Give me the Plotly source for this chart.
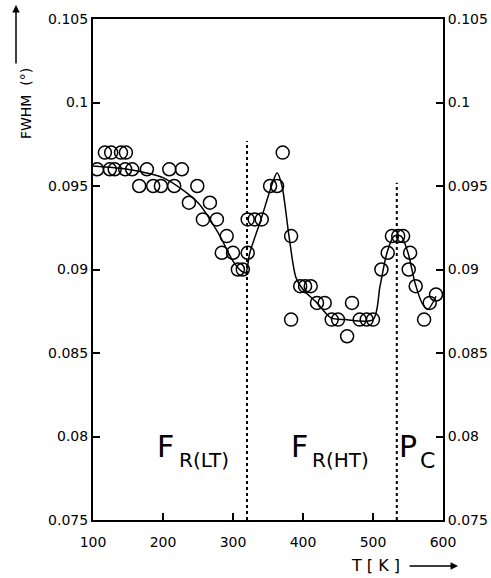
import plotly.graph_objects as go

# Measured data (T in K, FWHM in degrees)
temp_k = [106, 117, 124, 126, 131, 140, 146, 147, 156, 166, 177, 186, 197, 209, 216, 227,
          237, 249, 257, 267, 277, 284, 291, 300, 307, 314, 321, 321, 331, 341, 353, 363,
          371, 383, 383, 396, 403, 411, 420, 431, 441, 450, 463, 470, 481, 491, 500,
          512, 521, 527, 536, 543, 551, 553, 561, 573, 581, 590]
fwhm = [0.096, 0.097, 0.096, 0.097, 0.096, 0.097, 0.096, 0.097, 0.096, 0.095, 0.096, 0.095,
        0.095, 0.096, 0.095, 0.096, 0.094, 0.095, 0.093, 0.094, 0.093, 0.091, 0.092, 0.091,
        0.090, 0.090, 0.091, 0.093, 0.093, 0.093, 0.095, 0.095, 0.097, 0.092, 0.087, 0.089,
        0.089, 0.089, 0.088, 0.088, 0.087, 0.087, 0.086, 0.088, 0.087, 0.087, 0.087,
        0.090, 0.091, 0.092, 0.092, 0.092, 0.090, 0.091, 0.089, 0.087, 0.088, 0.0885]

# Guide-to-the-eye curve
curve_x = [100, 150, 200, 250, 280, 300, 312, 318, 324, 340, 355, 363, 370, 380, 390, 400,
           420, 440, 460, 500, 510, 520, 530, 540, 550, 560, 570, 578, 590]
curve_y = [0.0962, 0.0960, 0.0955, 0.0940, 0.0921, 0.0905, 0.0899, 0.0898, 0.0910, 0.0930,
           0.0950, 0.0958, 0.0950, 0.0920, 0.0895, 0.0888, 0.0880, 0.0871, 0.0870, 0.0870,
           0.0890, 0.0910, 0.0920, 0.0920, 0.0910, 0.0892, 0.0880, 0.0876, 0.0884]

# Phase boundaries (K) and their top values
boundary_x = [320, 534]
boundary_top = [0.0977, 0.0952]

y_ticks = [0.075, 0.08, 0.085, 0.09, 0.095, 0.1, 0.105]
y_tick_text = ["0.075", "0.08", "0.085", "0.09", "0.095", "0.1", "0.105"]
x_ticks = [100, 200, 300, 400, 500, 600]

FONT = "DejaVu Sans"

fig = go.Figure()

fig.add_trace(go.Scatter(x=curve_x, y=curve_y, mode="lines",
                         line=dict(color="black", width=1.5, shape="spline", smoothing=0.8),
                         showlegend=False, hoverinfo="skip"))
fig.add_trace(go.Scatter(x=temp_k, y=fwhm, mode="markers",
                         marker=dict(symbol="circle-open", size=13, color="black",
                                     line=dict(width=1.5, color="black")),
                         showlegend=False))
for bx, bt in zip(boundary_x, boundary_top):
    fig.add_trace(go.Scatter(x=[bx, bx], y=[0.075, bt], mode="lines",
                             line=dict(color="black", width=2, dash="dot"),
                             showlegend=False, hoverinfo="skip"))
# invisible trace for the right axis
fig.add_trace(go.Scatter(x=[100], y=[0.09], yaxis="y2", mode="markers",
                         marker=dict(opacity=0), showlegend=False, hoverinfo="skip"))

axis_common = dict(showgrid=False, zeroline=False, linecolor="black", linewidth=2,
                   ticks="inside", ticklen=7, tickwidth=2, tickcolor="black",
                   automargin=False,
                   tickfont=dict(family=FONT, size=14, color="black"))

fig.update_layout(
    width=491, height=578,
    margin=dict(l=93, r=48, t=19, b=58),
    plot_bgcolor="white", paper_bgcolor="white",
    xaxis=dict(range=[100, 600], tickvals=x_ticks, mirror=True, ticklabelstandoff=8,
               **axis_common),
    yaxis=dict(range=[0.075, 0.105], tickvals=y_ticks, ticktext=y_tick_text,
               **axis_common),
    yaxis2=dict(range=[0.075, 0.105], tickvals=y_ticks, ticktext=y_tick_text,
                overlaying="y", side="right", **axis_common),
)

# Phase labels
labels = [
    ("F", 204, 0.0794, 30), ("R(LT)", 259, 0.07859, 20),
    ("F", 395, 0.0794, 30), ("R(HT)", 453, 0.07859, 20),
    ("P", 550, 0.0794, 30), ("C", 578, 0.07859, 22),
]
for txt, lx, ly, fs in labels:
    fig.add_annotation(x=lx, y=ly, xref="x", yref="y", text=txt, showarrow=False,
                       xanchor="center", yanchor="middle",
                       font=dict(family=FONT, size=fs, color="black"))

# Axis titles with arrows
fig.add_annotation(x=-0.22, y=0.905, xref="paper", yref="paper", text="FWHM  (°)",
                   textangle=-90, showarrow=False,
                   font=dict(family=FONT, size=14, color="black"))
fig.add_annotation(x=-0.22, y=1.028, xref="paper", yref="paper", text="",
                   showarrow=True, ax=0, ay=60, arrowhead=2, arrowsize=1,
                   arrowwidth=1.5, arrowcolor="black")
fig.add_annotation(x=0.806, y=-0.0918, xref="paper", yref="paper", text="T [ K ]",
                   showarrow=False, xanchor="center", yanchor="middle",
                   font=dict(family=FONT, size=16, color="black"))
fig.add_annotation(x=1.043, y=-0.0918, xref="paper", yref="paper", text="",
                   showarrow=True, ax=-50, ay=0, arrowhead=2, arrowsize=1,
                   arrowwidth=1.5, arrowcolor="black")

fig.write_html("out.html")
